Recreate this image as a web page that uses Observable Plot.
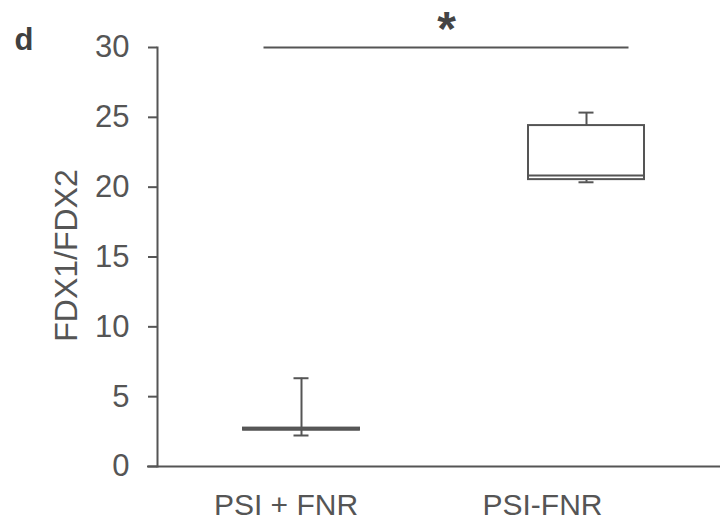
<!DOCTYPE html>
<html><head><meta charset="utf-8">
<script src="https://cdn.jsdelivr.net/npm/d3@7"></script>
<script src="https://cdn.jsdelivr.net/npm/@observablehq/plot@0.6"></script>
<style>body{margin:0;background:#fff} svg{display:block}</style>
</head><body><div id="chart"></div>
<script>
const categories = ["PSI + FNR", "PSI-FNR"];
const minVals = [2.22, 20.35];
const q1Vals = [2.6, 20.54];
const medianVals = [2.67, 20.83];
const q3Vals = [2.75, 24.41];
const maxVals = [6.32, 25.34];
const yTicks = [0, 5, 10, 15, 20, 25, 30];
const yLabel = "FDX1/FDX2";
const panelLabel = "d";
const significance = "*";
const sigLevel = [30];

const boxes = categories.map((c, i) => ({cat: c, min: minVals[i], q1: q1Vals[i], median: medianVals[i], q3: q3Vals[i], max: maxVals[i]}));
const ink = "#555555";
const font = "'Liberation Sans', Arial, sans-serif";

const plot = Plot.plot({
  width: 720, height: 519,
  marginLeft: 157, marginRight: 0, marginTop: 47, marginBottom: 53,
  style: {fontFamily: font, background: "#fff", color: ink},
  x: {type: "band", domain: categories, range: [157, 730], paddingInner: 0.594, paddingOuter: 0.299, align: 0.5, axis: null},
  y: {domain: [0, 30], axis: null},
  marks: [
    Plot.ruleY([0], {stroke: ink, strokeWidth: 2, insetLeft: -10}),
    Plot.frame({anchor: "left", stroke: ink, strokeWidth: 2}),
    Plot.axisY(yTicks, {anchor: "left", tickSize: 9, tickPadding: 19, fontSize: 31, stroke: ink, fill: ink, strokeWidth: 2, label: null}),
    Plot.ruleX(boxes, {x: "cat", y1: "min", y2: "max", stroke: ink, strokeWidth: 2}),
    Plot.tickY(boxes, {x: "cat", y: "max", insetLeft: 50.5, insetRight: 50.5, stroke: ink, strokeWidth: 2}),
    Plot.tickY(boxes, {x: "cat", y: "min", insetLeft: 50.5, insetRight: 50.5, stroke: ink, strokeWidth: 2}),
    Plot.barY(boxes, {x: "cat", y1: "q1", y2: "q3", fill: "white", stroke: ink, strokeWidth: 2}),
    Plot.tickY(boxes, {x: "cat", y: "median", stroke: ink, strokeWidth: 2}),
    Plot.ruleY(sigLevel, {x1: [categories[0]], x2: [categories[1]], insetLeft: 20.5, insetRight: 15.5, stroke: ink, strokeWidth: 2}),
    Plot.text([significance], {frameAnchor: "top", lineAnchor: "middle", dx: 7.5, dy: -17.8, fontSize: 48, fontWeight: "bold", fill: "#444"}),
    Plot.text([yLabel], {frameAnchor: "left", textAnchor: "middle", lineAnchor: "middle", rotate: -90, dx: -91, dy: -1.5, fontSize: 32, fill: ink}),
    Plot.text([panelLabel], {frameAnchor: "top-left", textAnchor: "start", lineAnchor: "top", dx: -143, dy: -19.7, fontSize: 31, fontWeight: "bold", fill: "#404040"}),
    Plot.text([categories[0]], {x: d => d, frameAnchor: "bottom", lineAnchor: "top", dy: 26.7, dx: -15.5, fontSize: 30, fill: ink}),
    Plot.text([categories[1]], {x: d => d, frameAnchor: "bottom", lineAnchor: "top", dy: 26.7, dx: -44, fontSize: 30, fill: ink})
  ]
});
document.getElementById("chart").append(plot);
</script>
</body></html>
